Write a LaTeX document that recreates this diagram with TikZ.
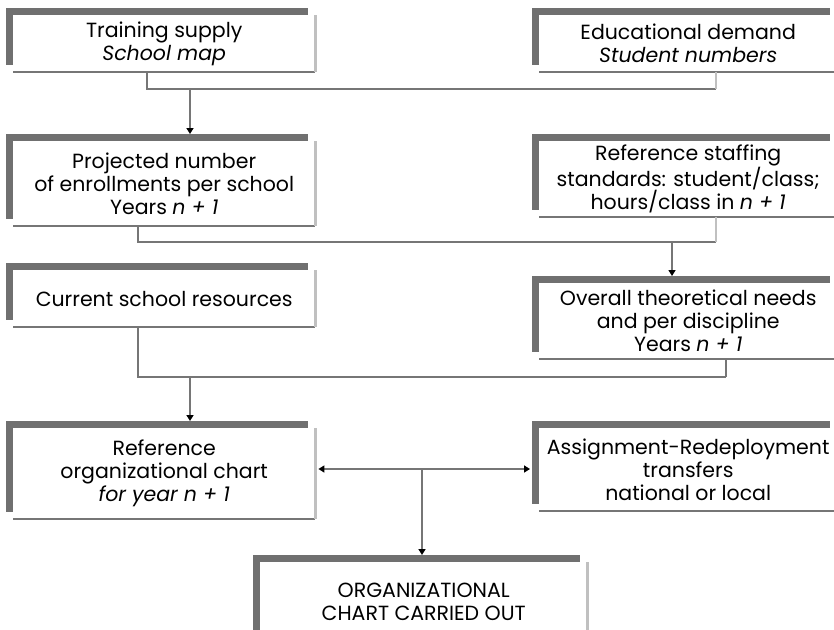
\documentclass[tikz,border=0pt]{standalone}
\usepackage{fontspec}
\setmainfont{Poppins}
\usetikzlibrary{calc,arrows.meta}
\definecolor{barc}{RGB}{112,112,112}
\definecolor{linec}{RGB}{118,118,118}
\definecolor{lightc}{RGB}{192,192,192}
\newcommand\decor[1]{%
  \fill[barc] ($(#1.north west)+(-7,-7)$) rectangle ($(#1.north east)+(-7,0)$);
  \fill[barc] ($(#1.north west)+(-7,-7)$) rectangle ($(#1.south west)+(0,-7)$);
  \draw[linec,line width=2pt] (#1.south west) -- (#1.south east);
  \draw[lightc,line width=2.4pt] (#1.north east) -- (#1.south east);
}
\begin{document}
\begin{tikzpicture}[x=1pt,y=-1pt,
  panel/.style={fill=white,draw=none,inner sep=0pt,anchor=north west,align=center,
    font=\fontsize{20.5}{23}\selectfont},
  conn/.style={linec,line width=2.2pt},
  stub/.style={lightc,line width=2.4pt},
  arr/.style={linec,line width=2.2pt,-{Triangle[width=7pt,length=6pt,color=black]}},
  darr/.style={linec,line width=2.2pt,{Triangle[width=7pt,length=6pt,color=black]}-{Triangle[width=7pt,length=6pt,color=black]}}]
\useasboundingbox (0,0) rectangle (834,629);
\fill[white] (0,0) rectangle (834,629);

\node[panel,minimum width=302pt,minimum height=57pt] (b1) at (13,15)
  {Training supply\\\textit{School map}};
\node[panel,minimum width=298pt,minimum height=57pt] (b2) at (539,15)
  {Educational demand\\\textit{Student numbers}};
\node[panel,minimum width=302pt,minimum height=85pt] (b3) at (13,141)
  {Projected number\\of enrollments per school\\Years \textit{n + 1}};
\node[panel,minimum width=298pt,minimum height=76pt] (b4) at (539,141)
  {Reference staffing\\standards: student/class;\\hours/class in \textit{n + 1}};
\node[panel,minimum width=302pt,minimum height=57pt] (b5) at (13,270)
  {Current school resources};
\node[panel,minimum width=298pt,minimum height=76pt] (b6) at (539,283)
  {Overall theoretical needs\\and per discipline\\Years \textit{n + 1}};
\node[panel,minimum width=302pt,minimum height=91pt] (b7) at (13,428)
  {Reference\\organizational chart\\\textit{for year n + 1}};
\node[panel,minimum width=298pt,minimum height=83pt] (b8) at (539,428)
  {Assignment-Redeployment\\transfers\\national or local};
\node[panel,minimum width=327pt,minimum height=80pt] (b9) at (260,562)
  {ORGANIZATIONAL\\CHART CARRIED OUT};

\foreach \b in {b1,b2,b3,b4,b5,b6,b7,b8,b9} {\decor{\b}}

% outer edges of the panels
\coordinate (b3t) at ($(b3.north)+(0,-7)$);
\coordinate (b6t) at ($(b6.north)+(0,-7)$);
\coordinate (b7t) at ($(b7.north)+(0,-7)$);
\coordinate (b9t) at ($(b9.north)+(0,-7)$);
\coordinate (b8l) at ($(b8.west)+(-9,0)$);
\coordinate (b7r) at ($(b7.east)+(3,0)$);

% level 1
\coordinate (h1) at (190,89);
\draw[conn] ([xshift=-17pt]b1.south) |- ([xshift=28pt]b2.south |- h1);
\draw[stub] ([xshift=28pt]b2.south) -- ([xshift=28pt]b2.south |- h1);
\draw[arr] (h1) -- (h1 |- b3t);

% level 2
\coordinate (h2) at (672,242);
\draw[conn] ([xshift=-26pt]b3.south) |- ([xshift=28pt]b4.south |- h2);
\draw[stub] ([xshift=28pt]b4.south) -- ([xshift=28pt]b4.south |- h2);
\draw[arr] (h2) -- (h2 |- b6t);

% level 3
\coordinate (h3) at (190,377);
\draw[conn] ([xshift=-26pt]b5.south) |- ([xshift=38pt]b6.south |- h3);
\draw[conn] ([xshift=38pt]b6.south) -- ([xshift=38pt]b6.south |- h3);
\draw[arr] (h3) -- (h3 |- b7t);

% level 4
\coordinate (jx) at (422,469);
\draw[darr] (jx -| b7r) -- (jx -| b8l);
\draw[arr] (jx) -- (jx |- b9t);
\end{tikzpicture}
\end{document}
